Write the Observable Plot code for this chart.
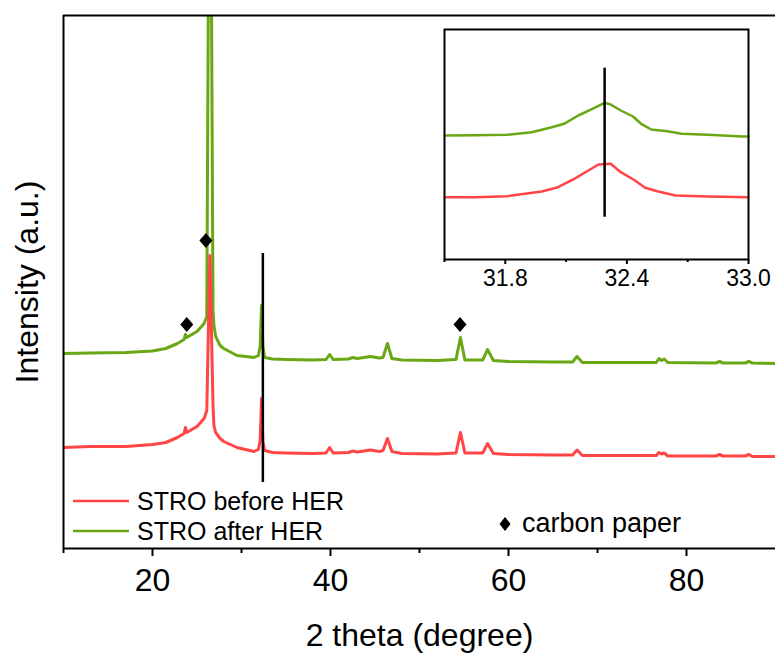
<!DOCTYPE html>
<html>
<head>
<meta charset="utf-8">
<script src="https://cdn.jsdelivr.net/npm/d3@7"></script>
<script src="https://cdn.jsdelivr.net/npm/@observablehq/plot@0.6"></script>
<style>
  html, body { margin: 0; padding: 0; background: #fff; }
  #chart { position: relative; width: 775px; height: 653px; overflow: hidden; }
  #chart > svg { position: absolute; }
</style>
</head>
<body>
<div id="chart"></div>
<script>
// XRD patterns of STRO on carbon paper, before and after HER (intensity in arbitrary units)
const mainTheta = [10, 13, 17, 20, 21.5, 22.8, 23.55, 23.7, 23.85, 25.0, 25.8, 26.1, 26.3, 26.45, 26.6,
  26.8, 26.9, 27.1, 27.6, 28.0, 29.5, 31.4, 31.9, 32.1, 32.25, 32.4, 32.6, 33.5, 35, 38,
  39.5, 39.9, 40.3, 42, 42.5, 43, 44.5, 45.5, 45.9, 46.4, 46.9, 48, 52, 54.1, 54.6,
  55.1, 57.1, 57.65, 58.3, 60, 65, 67.2, 67.7, 68.3, 72, 76.6, 76.9, 77.2, 77.5, 77.9,
  83.3, 83.7, 84.1, 86.6, 87.0, 87.4, 90];

const beforeHER = [101, 102, 102, 104, 106, 111, 115, 121, 116, 122, 130, 138, 228, 293, 228,
  143, 123, 116, 110, 107, 101, 97, 99, 108, 150, 108, 98, 96, 95.5, 95,
  95.5, 101, 95.5, 96, 97.5, 96.5, 98.5, 97, 98, 110, 97, 95, 94.5, 95.5, 116,
  95.5, 95.5, 105, 95, 94, 93.5, 93.5, 98.5, 93, 93, 93, 96, 94.5, 95.5, 92.5,
  92.5, 94, 92.5, 92.5, 94, 92, 92];

const afterHER = [195, 195.5, 196, 197.5, 200, 205, 209, 214, 211, 217, 225, 232, 600, 3000, 600,
  238, 223, 212, 203, 200, 193, 191, 193, 202, 243, 202, 191, 189.5, 189, 188.5,
  189, 194, 189, 189.5, 191, 190, 192, 190.5, 191, 205, 190, 188.5, 188, 189, 211,
  188.5, 188.5, 199, 188, 187, 186.5, 186.5, 192, 186, 186, 186, 190, 188, 189.5, 186,
  185.5, 187, 185.5, 185.5, 187, 185.5, 185];

// carbon paper reflections (diamonds)
const carbonTheta = [23.85, 26.0, 54.55];
const carbonLevel = [224, 308, 224];

// reference line at the main STRO reflection
const refTheta = 32.4;
const refFrom = 66;
const refTo = 295;

// zoom on the ~32.3 degree reflection
const insetAfterTheta = [31.50, 31.65, 31.81, 31.93, 32.03, 32.09, 32.16, 32.23, 32.27, 32.29, 32.32,
  32.37, 32.43, 32.47, 32.52, 32.60, 32.67, 32.80, 32.97, 33.00];
const insetAfter = [124, 124.3, 124.7, 127.3, 132.3, 135.7, 144, 150.7, 154.7, 156.7, 155,
  149, 143, 135.7, 130, 128.3, 125.7, 124.7, 123, 123];
const insetBeforeTheta = [31.50, 31.65, 31.81, 31.98, 32.06, 32.14, 32.21, 32.26, 32.32, 32.37,
  32.44, 32.49, 32.55, 32.64, 32.80, 33.00];
const insetBefore = [62.3, 62.3, 63.3, 68, 72.3, 80.7, 89, 95, 95.7, 87.3,
  79, 71.7, 68.3, 64, 63, 62.3];
const insetRefTheta = 32.29;
const insetRefFrom = 42.3;
const insetRefTo = 191.3;

const xTicks = [20, 40, 60, 80];
const xMinorTicks = [10, 30, 50, 70];
const insetTicks = [31.8, 32.4, 33.0];
const insetMinorTicks = [31.5, 32.1, 32.7];

const seriesNames = ["STRO before HER", "STRO after HER"];
const RED = "#ff4545";
const GREEN = "#6aa714";
const FONT = "'Liberation Sans', Arial, Helvetica, sans-serif";

const rows = (theta, values) => theta.map((t, i) => ({theta: t, I: values[i]}));
const beforeRows = rows(mainTheta, beforeHER);
const afterRows = rows(mainTheta, afterHER);
const carbonRows = rows(carbonTheta, carbonLevel);

// filled rhombus, slightly taller than wide
const rhombus = {
  draw(context, size) {
    const r = Math.sqrt(size / Math.PI);
    const w = r * 0.93, h = r * 1.07;
    context.moveTo(0, -h);
    context.lineTo(w, 0);
    context.lineTo(0, h);
    context.lineTo(-w, 0);
    context.closePath();
  }
};

const chart = document.getElementById("chart");

const main = Plot.plot({
  width: 775,
  height: 653,
  marginLeft: 63,
  marginRight: 0,
  marginTop: 15,
  marginBottom: 105,
  style: {fontFamily: FONT, fontSize: "32px", color: "#000", background: "transparent", overflow: "visible"},
  x: {domain: [10, 90]},
  y: {domain: [0, 533], axis: null},
  marks: [
    Plot.line(afterRows, {x: "theta", y: "I", stroke: GREEN, strokeWidth: 3, clip: true}),
    Plot.line(beforeRows, {x: "theta", y: "I", stroke: RED, strokeWidth: 3, clip: true}),
    Plot.ruleX([{theta: refTheta, from: refFrom, to: refTo}], {x: "theta", y1: "from", y2: "to", stroke: "#000", strokeWidth: 2.5}),
    Plot.dot(carbonRows, {x: "theta", y: "I", symbol: rhombus, r: 7, fill: "#000", stroke: "none"}),
    Plot.ruleX([10], {stroke: "#000", strokeWidth: 2}),
    Plot.ruleY([533], {stroke: "#000", strokeWidth: 2}),
    Plot.ruleY([0], {stroke: "#000", strokeWidth: 2}),
    Plot.axisX({ticks: xTicks, tickSize: 8, tickPadding: 12, strokeWidth: 2, label: null, fontSize: 32}),
    Plot.axisX({ticks: xMinorTicks, tickSize: 5, strokeWidth: 2, tickFormat: () => "", label: null}),
    Plot.text(["2 theta (degree)"], {frameAnchor: "bottom", dy: 97, lineAnchor: "bottom", textAnchor: "middle", fontSize: 32, fill: "#000"}),
    Plot.text(["Intensity (a.u.)"], {frameAnchor: "left", dx: -26, rotate: -90, lineAnchor: "bottom", textAnchor: "middle", fontSize: 32, fill: "#000"})
  ]
});
main.style.left = "0px";
main.style.top = "0px";
chart.appendChild(main);

const inset = Plot.plot({
  width: 351,
  height: 270,
  marginLeft: 20,
  marginRight: 27,
  marginTop: 10,
  marginBottom: 30,
  style: {fontFamily: FONT, fontSize: "23px", color: "#000", background: "transparent", overflow: "visible"},
  x: {domain: [31.5, 33.0]},
  y: {domain: [0, 230], axis: null},
  marks: [
    Plot.line(rows(insetAfterTheta, insetAfter), {x: "theta", y: "I", stroke: GREEN, strokeWidth: 2.5}),
    Plot.line(rows(insetBeforeTheta, insetBefore), {x: "theta", y: "I", stroke: RED, strokeWidth: 2.5}),
    Plot.ruleX([{theta: insetRefTheta, from: insetRefFrom, to: insetRefTo}], {x: "theta", y1: "from", y2: "to", stroke: "#000", strokeWidth: 2.5}),
    Plot.frame({stroke: "#000", strokeWidth: 2}),
    Plot.axisX({ticks: insetTicks, tickSize: 5, tickPadding: 5, strokeWidth: 2, tickFormat: d3.format(".1f"), label: null, fontSize: 23}),
    Plot.axisX({ticks: insetMinorTicks, tickSize: 3, strokeWidth: 2, tickFormat: () => "", label: null})
  ]
});
inset.style.left = "424px";
inset.style.top = "19px";
chart.appendChild(inset);

// legend: series swatches at lower left, carbon paper marker at lower right
const legend = d3.create("svg")
  .attr("width", 775)
  .attr("height", 653)
  .style("left", "0px")
  .style("top", "0px")
  .style("pointer-events", "none")
  .attr("font-family", FONT);

seriesNames.forEach((name, i) => {
  const cy = 501 + i * 30;
  legend.append("line")
    .attr("x1", 73).attr("x2", 129).attr("y1", cy).attr("y2", cy)
    .attr("stroke", [RED, GREEN][i]).attr("stroke-width", 2.5);
  legend.append("text")
    .attr("x", 137).attr("y", cy + 9)
    .attr("font-size", 25).attr("fill", "#000")
    .text(name);
});
legend.append("path")
  .attr("d", "M505,517 L510.5,524 L505,531 L499.5,524 Z")
  .attr("fill", "#000");
legend.append("text")
  .attr("x", 522).attr("y", 531.5)
  .attr("font-size", 27).attr("fill", "#000")
  .text("carbon paper");

chart.appendChild(legend.node());
</script>
</body>
</html>
